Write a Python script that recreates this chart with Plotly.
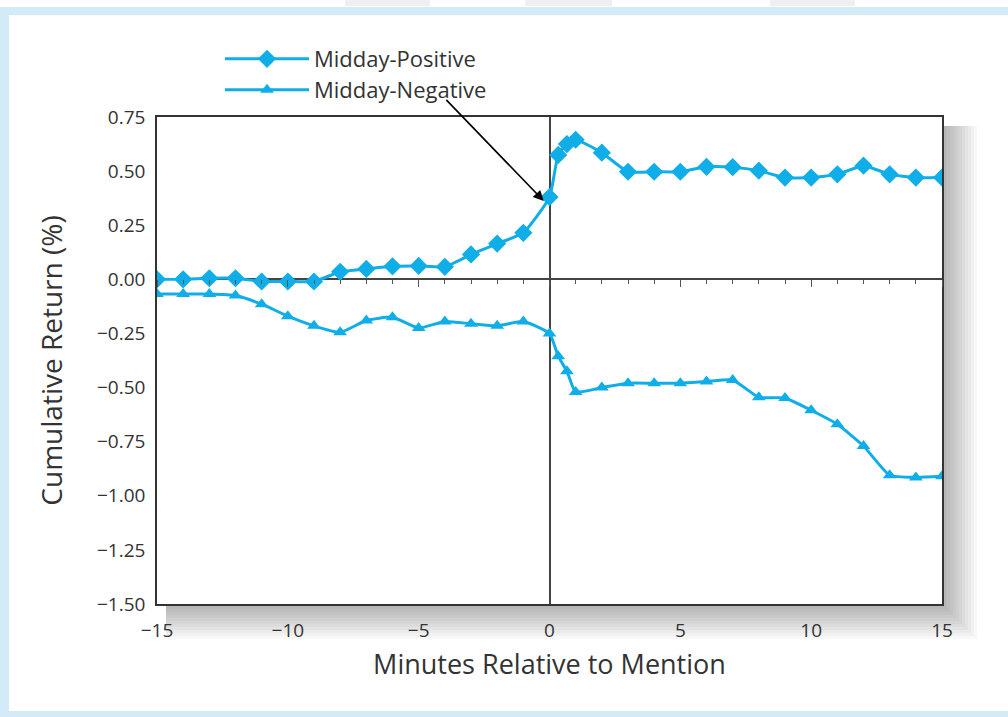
import plotly.graph_objects as go

# ---------------- data ----------------
minutes = [-15, -14, -13, -12, -11, -10, -9, -8, -7, -6, -5, -4, -3, -2, -1,
           0, 1/3, 2/3, 1, 2, 3, 4, 5, 6, 7, 8, 9, 10, 11, 12, 13, 14, 15]
midday_positive = [0.00, 0.00, 0.005, 0.005, -0.01, -0.01, -0.01, 0.035, 0.048, 0.06,
                   0.062, 0.058, 0.115, 0.165, 0.215,
                   0.38, 0.575, 0.625, 0.645, 0.585, 0.497, 0.497, 0.497, 0.52, 0.518,
                   0.502, 0.47, 0.47, 0.485, 0.525, 0.485, 0.47, 0.47]
midday_negative = [-0.068, -0.068, -0.068, -0.075, -0.115, -0.17, -0.215, -0.245, -0.19, -0.175,
                   -0.225, -0.195, -0.205, -0.215, -0.195,
                   -0.25, -0.355, -0.425, -0.52, -0.50, -0.48, -0.48, -0.48, -0.472, -0.465,
                   -0.545, -0.548, -0.605, -0.67, -0.77, -0.905, -0.915, -0.91]
series_names = ["Midday-Positive", "Midday-Negative"]
y_ticks = [0.75, 0.50, 0.25, 0.00, -0.25, -0.50, -0.75, -1.00, -1.25, -1.50]
x_ticks = [-15, -10, -5, 0, 5, 10, 15]

# ---------------- style ----------------
W, H = 1008, 717
L, R, T, B = 157, 942, 117, 604   # plot area in pixels
COLOR = "#10aee8"
FONT = "Open Sans"
TXT = "#333333"


def px(xp):
    return (xp - L) / (R - L)


def py(yp):
    return (B - yp) / (B - T)


fig = go.Figure()
fig.add_trace(go.Scatter(
    x=minutes, y=midday_positive, name=series_names[0], mode="lines+markers",
    line=dict(color=COLOR, width=3, shape="spline", smoothing=0.5),
    marker=dict(symbol="diamond", size=14, color=COLOR), legend="legend",
))
fig.add_trace(go.Scatter(
    x=minutes, y=midday_negative, name=series_names[1], mode="lines+markers",
    line=dict(color=COLOR, width=3, shape="spline", smoothing=0.5),
    marker=dict(symbol="triangle-up", size=12, color=COLOR), legend="legend2",
))
# invisible trace to host the tick axis along y = 0
fig.add_trace(go.Scatter(x=[x_ticks[0], x_ticks[-1]], y=[0, 0], xaxis="x2", yaxis="y",
                         mode="lines", line=dict(width=0), showlegend=False, hoverinfo="skip"))

shapes = []
# light-blue outer frame
shapes.append(dict(type="rect", xref="paper", yref="paper", x0=px(0), x1=px(W), y0=py(7), y1=py(15),
                   fillcolor="#d3ebf8", line=dict(width=0), layer="below"))
shapes.append(dict(type="rect", xref="paper", yref="paper", x0=px(0), x1=px(9), y0=py(717), y1=py(7),
                   fillcolor="#d3ebf8", line=dict(width=0), layer="below"))
shapes.append(dict(type="rect", xref="paper", yref="paper", x0=px(0), x1=px(W), y0=py(717), y1=py(711),
                   fillcolor="#d3ebf8", line=dict(width=0), layer="below"))
for a, b in [(345, 430), (525, 612), (770, 855)]:
    shapes.append(dict(type="rect", xref="paper", yref="paper", x0=px(a), x1=px(b), y0=py(6), y1=py(0),
                       fillcolor="#efefef", line=dict(width=0), layer="below"))
# soft drop shadow
for i in range(12):
    shapes.append(dict(type="rect", xref="paper", yref="paper",
                       x0=px(166), x1=px(R + 2 + 3 * i), y0=py(B + 2 + 3 * i), y1=py(126),
                       fillcolor="rgba(0,0,0,0.028)", line=dict(width=0), layer="below"))
shapes.append(dict(type="rect", xref="paper", yref="paper", x0=0, x1=1, y0=0, y1=1,
                   fillcolor="white", line=dict(width=0), layer="below"))
fig.update_layout(shapes=shapes)

fig.add_annotation(x=-0.22, y=0.362, ax=-4.0, ay=0.836, xref="x", yref="y", axref="x", ayref="y",
                   text="", showarrow=True, arrowhead=2, arrowsize=1.3, arrowwidth=1.6,
                   arrowcolor="black", standoff=0)

legend_common = dict(xanchor="left", yanchor="middle", bgcolor="rgba(0,0,0,0)",
                     font=dict(family=FONT, size=22, color=TXT), itemwidth=84,
                     borderwidth=0)

fig.update_layout(
    width=W, height=H,
    margin=dict(l=L, r=W - R, t=T, b=H - B),
    paper_bgcolor="white", plot_bgcolor="white",
    font=dict(family=FONT, size=19, color=TXT),
    showlegend=True,
    legend=dict(x=px(220), y=py(59), **legend_common),
    legend2=dict(x=px(220), y=py(90), **legend_common),
    xaxis=dict(range=[-15, 15], tickvals=x_ticks, ticktext=[f"{v}".replace("-", "\u2212") for v in x_ticks],
               showgrid=False, zeroline=True, zerolinecolor="#444", zerolinewidth=1.5,
               showline=True, linecolor="#333", linewidth=1.5, mirror=True, ticks="",
               ticklabelstandoff=8,
               title=dict(text="Minutes Relative to Mention", font=dict(size=27, color=TXT), standoff=14)),
    xaxis2=dict(range=[-15, 15], overlaying="x", anchor="free", position=py(279.3), side="bottom",
                showline=False, showgrid=False, zeroline=False, showticklabels=False,
                ticks="outside", tickvals=x_ticks, ticklen=7, tickcolor="#555", tickwidth=1,
                minor=dict(ticks="outside", dtick=1, ticklen=4, tickcolor="#555", tickwidth=1)),
    yaxis=dict(range=[-1.5, 0.75], tickvals=y_ticks,
               ticktext=[f"{v:.2f}".replace("-", "\u2212") for v in y_ticks],
               showgrid=False, zeroline=True, zerolinecolor="#444", zerolinewidth=1.5,
               showline=True, linecolor="#333", linewidth=1.5, mirror=True, ticks="",
               ticklabelstandoff=6,
               title=dict(text="Cumulative Return (%)", font=dict(size=28, color=TXT), standoff=26)),
)

fig.write_html("out.html", config={"displayModeBar": False},
               post_script="document.body.style.margin='0';document.body.style.overflow='hidden';")
